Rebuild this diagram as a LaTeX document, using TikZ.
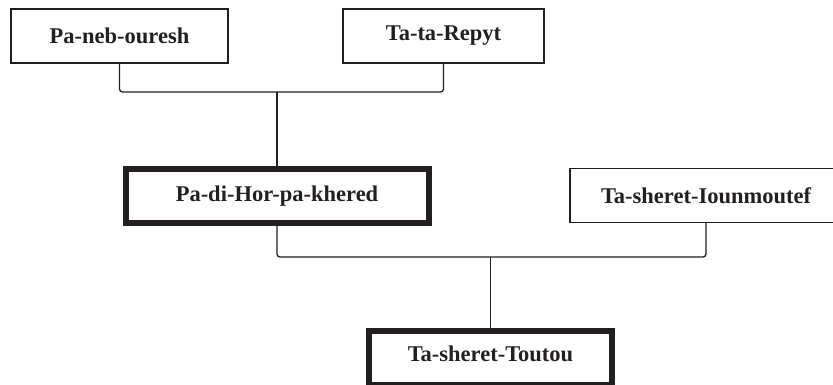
\documentclass[tikz,border=0pt]{standalone}
\usepackage{fontspec}
\setmainfont{Liberation Serif}
\definecolor{ink}{HTML}{231F20}
\begin{document}
\begin{tikzpicture}[x=1pt,y=1pt,
  person/.style={draw=ink,text=ink,line width=1.3pt,minimum height=54pt,inner sep=0pt,
    font=\fontsize{22.5}{26}\selectfont\bfseries},
  main/.style={person,line width=6pt},
  link/.style={draw=ink,line width=1.3pt,rounded corners=3pt}]
\useasboundingbox (0,0) rectangle (833,-385);
\clip (0,0) rectangle (833,-385);
\node[person,minimum width=217pt] (b1) at (119.5,-36) {Pa-neb-ouresh};
\node[person,minimum width=201pt] (b2) at (443.5,-36) {Ta-ta-Repyt};
\node[main,minimum width=303pt] (b3) at (277,-196) {Pa-di-Hor-pa-khered};
\node[person,minimum width=272pt] (b4) at (706,-195.5) {Ta-sheret-Iounmoutef};
\node[main,minimum width=243pt,text depth=9pt] (b5) at (490.5,-358) {Ta-sheret-Toutou};
\coordinate (j1) at (277,-92);
\coordinate (j2) at (490.5,-257);
\draw[link] (b1.south) |- (j1) -| (b2.south);
\draw[link] (j1) -- (b3.north);
\draw[link] (b3.south) |- (j2) -| (b4.south);
\draw[link] (j2) -- (b5.north);
\end{tikzpicture}
\end{document}
